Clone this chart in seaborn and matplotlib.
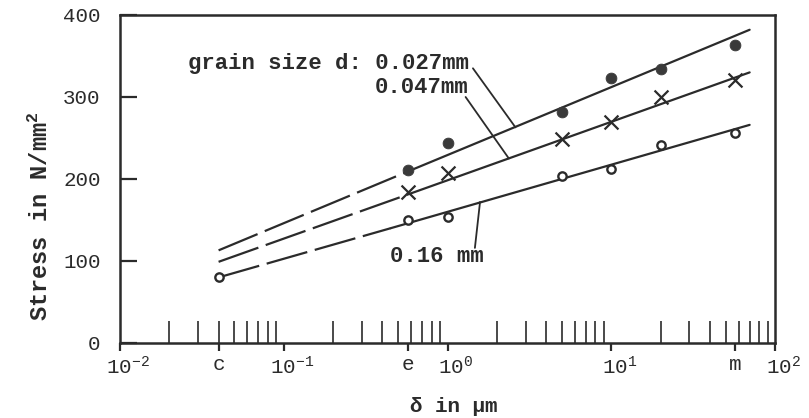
import numpy as np
import pandas as pd
import seaborn as sns
import matplotlib.pyplot as plt
from matplotlib.transforms import ScaledTranslation

sns.set_style("white")
plt.rcParams['font.family'] = ['Liberation Mono', 'DejaVu Sans']
plt.rcParams['mathtext.fontset'] = 'custom'
plt.rcParams['mathtext.rm'] = 'Liberation Mono'
plt.rcParams['mathtext.it'] = 'Liberation Mono'

# measured points: delta in um, stress in N/mm^2
delta_a = [0.57, 1, 5, 10, 20, 57]
stress_027 = [211, 244, 282, 323, 334, 363]
stress_047 = [184, 207, 249, 270, 300, 321]
delta_b = [0.04, 0.57, 1, 5, 10, 20, 57]
stress_016 = [80, 150, 154, 204, 212, 241, 256]

# fitted straight lines (start, end of dashed part, end of solid part)
fit_x = [0.04, 0.57, 70]
fit_027 = [113, 209, 382]
fit_047 = [99, 181, 330]
fit_x_016 = [0.04, 0.45, 70]
fit_016 = [80, 140, 266]

xtick_vals = [0.01, 0.04, 0.1, 0.57, 1, 10, 57, 100]
xtick_labels = [r'$\mathregular{10^{-2}}$', 'c', r'$\mathregular{10^{-1}}$', 'e',
                r'$\mathregular{10^{0}}$', r'$\mathregular{10^{1}}$', 'm',
                r'$\mathregular{10^{2}}$']
ytick_vals = [0, 100, 200, 300, 400]

ink = '#2b2b2b'
dash = (0, (19, 3.5))

fig = plt.figure(figsize=(8.09, 4.18), dpi=100)
ax = fig.add_axes([120 / 809, 75 / 418, 655 / 809, 328 / 418])
ax.set_xscale('log')

for fx, fy in [(fit_x, fit_027), (fit_x, fit_047), (fit_x_016, fit_016)]:
    sns.lineplot(x=fx[:2], y=fy[:2], ax=ax, color=ink, lw=1.6, linestyle=dash)
    sns.lineplot(x=fx[1:], y=fy[1:], ax=ax, color=ink, lw=1.6)

sns.scatterplot(x=delta_a, y=stress_027, ax=ax, marker='o', s=60,
                color='#3a3a3a', edgecolor='#3a3a3a', zorder=3)
sns.scatterplot(x=delta_a, y=stress_047, ax=ax, marker='x', s=100,
                color=ink, linewidth=1.6, zorder=3)
sns.scatterplot(x=delta_b, y=stress_016, ax=ax, marker='o', s=36,
                facecolor='white', edgecolor=ink, linewidth=1.7, zorder=3)

# labels with leader lines
txt = dict(fontsize=16, fontweight='bold', color=ink, ha='right', va='center')
ax.text(1.35, 341, 'grain size d: 0.027mm', **txt)
ax.text(1.35, 312, '0.047mm', **txt)
ax.text(1.67, 105, '0.16 mm', **txt)
ax.plot([1.43, 2.6], [335, 263], color=ink, lw=1.3)
ax.plot([1.29, 2.37], [300, 225], color=ink, lw=1.3)
ax.plot([1.47, 1.58], [116, 172], color=ink, lw=1.3)

ax.set_xlim(0.01, 100)
ax.set_ylim(0, 400)

ax.set_xticks(xtick_vals)
ax.set_xticklabels(xtick_labels, fontsize=15)
minors = [m * 10.0 ** k for k in range(-2, 2) for m in range(2, 10)]
ax.set_xticks(minors, minor=True)
ax.set_xticklabels([], minor=True)
ax.xaxis.remove_overlapping_locs = False
ax.tick_params(axis='x', which='major', direction='out', length=6, width=1.6,
               color=ink, pad=3, labelcolor=ink, bottom=True)
ax.tick_params(axis='x', which='minor', direction='in', length=16, width=1.2,
               color=ink, bottom=True)
for lab in ax.get_xticklabels():
    if lab.get_text().startswith('$'):
        lab.set_transform(lab.get_transform() +
                          ScaledTranslation(8 / 100, 0, fig.dpi_scale_trans))

ax.set_yticks(ytick_vals)
ax.set_yticklabels([str(v) for v in ytick_vals], fontsize=15)
ax.tick_params(axis='y', direction='in', length=12, width=1.6, color=ink,
               pad=14, labelcolor=ink, left=True)

for sp in ax.spines.values():
    sp.set_visible(True)
    sp.set_linewidth(1.8)
    sp.set_color(ink)

ax.set_ylabel(r'Stress in N/mm$^{\mathregular{2}}$', fontsize=17,
              fontweight='bold', color=ink)
ax.yaxis.set_label_coords(-0.102, 0.387)
ax.set_xlabel('δ in μm', fontsize=15, fontweight='bold', color=ink)
ax.xaxis.set_label_coords(0.51, -0.165)

fig.savefig('out.png', dpi=100)
